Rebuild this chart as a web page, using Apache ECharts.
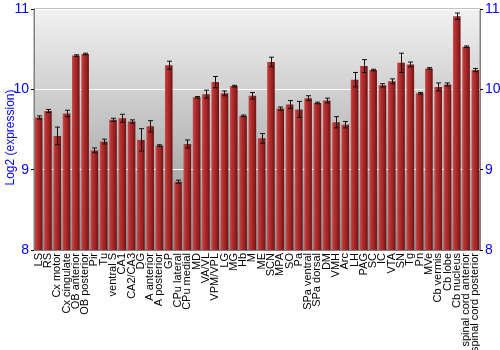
<!DOCTYPE html>
<html><head><meta charset="utf-8">
<script src="https://cdn.jsdelivr.net/npm/echarts@6/dist/echarts.min.js"></script>
<style>html,body{margin:0;padding:0;background:#fff}#c{width:500px;height:350px}</style>
</head><body><div id="c"></div>
<script>
var categories = ["LS","RS","Cx motor","Cx cingulate","OB anterior","OB posterior","Pir","Tu","ventral S","CA1","CA2/CA3","DG","A anterior","A posterior","GP","CPu lateral","CPu medial","MD","VA/VL","VPM/VPL","LG","MG","Hb","M","ME","SCN","MPA","SO","Pa","SPa ventral","SPa dorsal","DM","VMH","Arc","LH","PAG","SC","IC","VTA","SN","Tg","Pn","MVe","Cb vermis","Cb lobe","Cb nucleus","spinal cord anterior","spinal cord posterior"];
var values = [9.65,9.73,9.42,9.70,10.42,10.44,9.24,9.35,9.62,9.64,9.60,9.37,9.54,9.30,10.30,8.85,9.32,9.90,9.94,10.09,9.95,10.04,9.67,9.92,9.39,10.34,9.76,9.81,9.75,9.89,9.83,9.86,9.59,9.56,10.12,10.29,10.24,10.05,10.10,10.33,10.31,9.95,10.26,10.03,10.06,10.91,10.53,10.24];
var errors = [0.02,0.02,0.11,0.04,0.01,0.01,0.03,0.03,0.02,0.05,0.02,0.14,0.07,0.01,0.05,0.02,0.05,0.01,0.05,0.07,0.03,0.01,0.01,0.04,0.06,0.06,0.02,0.05,0.10,0.03,0.01,0.03,0.07,0.04,0.09,0.08,0.01,0.02,0.03,0.12,0.03,0.01,0.01,0.05,0.02,0.04,0.01,0.02];
var yTicks = [8,9,10,11];

var chart = echarts.init(document.getElementById('c'), null, {renderer:'canvas'});
var errData = values.map(function(v,i){return [i, v-errors[i], v+errors[i]];});
var barGrad = new echarts.graphic.LinearGradient(0,0,1,0,[
  {offset:0,color:'#c85050'},{offset:0.25,color:'#b83232'},{offset:0.6,color:'#a02424'},{offset:1,color:'#6a1414'}]);
var axisLbl = {color:'#0000ff', fontSize:14, fontFamily:'Liberation Sans, Arial, sans-serif'};
chart.setOption({
  animation:false,
  grid:{left:34, right:20, top:9, bottom:100, outerBoundsMode:'none', containLabel:false, show:true, borderColor:'#808080', borderWidth:1,
    backgroundColor:new echarts.graphic.LinearGradient(0,0,0,1,[{offset:0,color:'#f2f2f2'},{offset:1,color:'#8e8e8e'}])},
  xAxis:{type:'category', data:categories,
    axisLine:{lineStyle:{color:'#808080'}}, axisTick:{show:false},
    axisLabel:{rotate:90, interval:0, color:'#000', fontSize:11, fontFamily:'Liberation Sans, Arial, sans-serif', margin:3}},
  yAxis:[
    {type:'value', min:8, max:11, interval:1, name:'Log2 (expression)', nameLocation:'middle', nameGap:17, nameMoveOverlap:false,
     nameTextStyle:{color:'#0000ff', fontSize:12, fontFamily:'Liberation Sans, Arial, sans-serif', padding:[0,16,0,0]},
     axisLine:{show:true, lineStyle:{color:'#808080'}}, axisTick:{show:true, length:3, lineStyle:{color:'#000'}},
     axisLabel:Object.assign({margin:5, formatter:function(v){return yTicks.indexOf(v)>=0?String(v):'';}}, axisLbl),
     splitLine:{show:true, lineStyle:{color:'#ffffff', width:1}}},
    {type:'value', min:8, max:11, interval:1, position:'right',
     axisLine:{show:true, lineStyle:{color:'#808080'}}, axisTick:{show:true, length:3, lineStyle:{color:'#000'}},
     axisLabel:Object.assign({margin:5}, axisLbl), splitLine:{show:false}}
  ],
  series:[
    {type:'bar', data:values, barCategoryGap:'18%', itemStyle:{color:barGrad}, z:2},
    {type:'custom', data:errData, z:3,
     renderItem:function(params, api){
       var x = api.value(0);
       var lo = api.coord([x, api.value(1)]);
       var hi = api.coord([x, api.value(2)]);
       var cx = Math.round(lo[0])+0.5;
       var w = 2.5;
       var st = {stroke:'#111', lineWidth:1};
       return {type:'group', children:[
         {type:'line', shape:{x1:cx, y1:hi[1], x2:cx, y2:lo[1]}, style:st},
         {type:'line', shape:{x1:cx-w, y1:hi[1], x2:cx+w, y2:hi[1]}, style:st},
         {type:'line', shape:{x1:cx-w, y1:lo[1], x2:cx+w, y2:lo[1]}, style:st}
       ]};
     }}
  ]
});
</script></body></html>
